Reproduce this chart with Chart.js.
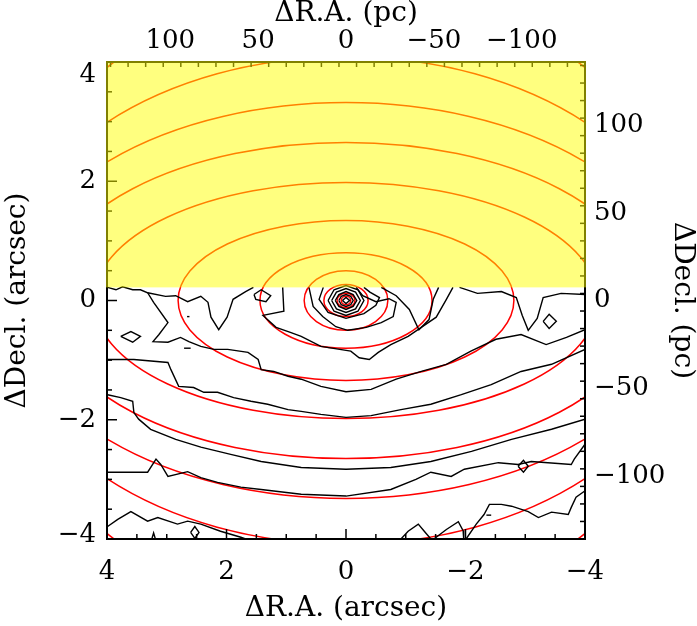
<!DOCTYPE html>
<html>
<head>
<meta charset="utf-8">
<script src="https://cdn.jsdelivr.net/npm/chart.js@4.4.0/dist/chart.umd.min.js"></script>
<style>
html, body { margin: 0; padding: 0; background: #fff; }
</style>
</head>
<body>
<canvas id="c" width="697" height="626"></canvas>
<script>
// model isophotes, semi-axes in arcsec (centred on the nucleus)
const isoA = [0.08, 0.15, 0.37, 0.70, 1.44, 2.81, 4.22, 5.05, 5.60, 5.86, 5.96];
const isoB = [0.07, 0.12, 0.27, 0.50, 0.80, 1.34, 1.98, 2.65, 3.32, 4.09, 5.27];

// observed contours, [dRA, dDecl] in arcsec
const contours = [
  [[3.99,0.22],[3.85,0.18],[3.74,0.23],[3.57,0.18],[3.44,0.18],[3.32,0.13],[3.22,-0.03],[2.98,-0.37],[3.13,-0.57],[3.23,-0.69],[2.98,-0.70],[2.77,-0.62],[2.63,-0.69],[2.43,-0.77],[2.21,-0.82],[1.98,-0.82],[1.64,-0.87],[1.47,-0.99],[1.42,-1.16],[1.21,-1.19],[0.97,-1.27],[0.75,-1.32],[0.42,-1.44],[0,-1.53],[-0.42,-1.49],[-0.84,-1.32],[-1.26,-1.19],[-1.68,-1.07],[-2.09,-0.85],[-2.51,-0.65],[-2.93,-0.57],[-3.35,-0.74],[-3.69,-0.62],[-4.0,-0.49]],
  [[3.32,0.13],[3.02,0.07],[2.85,0.08],[2.65,-0.02],[2.43,0.07],[2.31,-0.03],[2.26,-0.28],[2.13,-0.49],[1.99,-0.28],[1.89,0.02],[1.68,0.15],[1.55,0.22]],
  [[1.06,0.22],[1.04,-0.18],[1.39,-0.25],[1.17,-0.45],[0.92,-0.54],[0.75,-0.60],[0.42,-0.77],[-0.08,-0.85],[-0.22,-0.96],[-0.39,-0.99],[-0.54,-0.87],[-0.75,-0.74],[-1.04,-0.60],[-1.26,-0.45],[-1.51,-0.28],[-1.68,0.02],[-1.79,0.22]],
  [[0.62,0.22],[0.55,-0.10],[0.39,-0.27],[0.17,-0.44],[-0.03,-0.50],[-0.34,-0.45],[-0.59,-0.37],[-0.79,-0.27],[-0.84,-0.03],[-0.72,0.03],[-0.50,-0.02],[-0.28,0.08],[-0.17,0.22]],
  [[0.38,0.22],[0.45,0.02],[0.30,-0.20],[0,-0.30],[-0.30,-0.22],[-0.50,-0.08],[-0.56,0.05],[-0.40,0.14],[-0.30,0.22]],
  [[0.30,0],[0.20,-0.18],[0,-0.25],[-0.20,-0.18],[-0.30,0],[-0.20,0.18],[0,0.25],[0.20,0.18],[0.30,0]],
  [[0.24,0],[0.16,-0.14],[0,-0.20],[-0.16,-0.14],[-0.24,0],[-0.16,0.14],[0,0.20],[0.16,0.14],[0.24,0]],
  [[0.18,0],[0.12,-0.10],[0,-0.15],[-0.12,-0.10],[-0.18,0],[-0.12,0.10],[0,0.15],[0.12,0.10],[0.18,0]],
  [[0.12,0],[0.08,-0.07],[0,-0.10],[-0.08,-0.07],[-0.12,0],[-0.08,0.07],[0,0.10],[0.08,0.07],[0.12,0]],
  [[0.06,0],[0,-0.05],[-0.06,0],[0,0.05],[0.06,0]],
  [[-0.59,0.22],[-0.84,0.08],[-1.06,-0.15],[-1.22,-0.49],[-1.39,-0.32],[-1.46,0.02],[-1.55,0.22]],
  [[-1.90,0.22],[-2.20,0.12],[-2.60,0.15],[-2.85,0.05],[-2.95,-0.25],[-3.05,-0.50],[-3.20,-0.30],[-3.30,0.05],[-3.60,0.12],[-4.0,0.10]],
  [[3.99,-0.99],[3.55,-0.99],[2.98,-1.04],[2.93,-1.16],[2.80,-1.44],[2.55,-1.46],[2.38,-1.54],[2.15,-1.54],[1.88,-1.63],[1.59,-1.69],[1.31,-1.74],[0.97,-1.83],[0.75,-1.86],[0.42,-1.91],[0,-1.96],[-0.42,-1.93],[-0.92,-1.83],[-1.42,-1.74],[-1.93,-1.58],[-2.43,-1.41],[-2.93,-1.19],[-3.44,-1.07],[-4.0,-0.82]],
  [[3.99,-1.58],[3.77,-1.63],[3.57,-1.69],[3.55,-1.88],[3.47,-1.99],[3.27,-2.16],[2.85,-2.33],[2.43,-2.46],[1.93,-2.58],[1.42,-2.70],[0.75,-2.80],[0,-2.83],[-0.75,-2.80],[-1.42,-2.70],[-2.10,-2.53],[-2.77,-2.33],[-3.44,-2.16],[-4.0,-1.99]],
  [[3.99,-2.88],[3.32,-2.88],[3.18,-2.66],[3.10,-2.75],[2.98,-2.95],[2.65,-2.87],[2.43,-2.97],[2.15,-3.05],[1.76,-3.13],[1.42,-3.17],[0.75,-3.25],[0,-3.28],[-0.75,-3.17],[-1.17,-3.0],[-1.42,-2.88],[-1.76,-2.95],[-1.98,-2.83],[-2.55,-2.72],[-2.88,-2.75],[-3.10,-2.70],[-3.77,-2.75],[-3.82,-2.66],[-4.0,-2.41]],
  [[3.99,-3.79],[3.82,-3.67],[3.60,-3.54],[3.32,-3.70],[3.15,-3.64],[2.82,-3.75],[2.65,-3.70],[2.43,-3.75],[2.10,-3.87],[1.76,-3.97],[1.68,-4.0]],
  [[-2.01,-4.0],[-2.18,-3.75],[-2.31,-3.59],[-2.40,-3.42],[-2.60,-3.42],[-2.77,-3.45],[-3.05,-3.54],[-3.22,-3.64],[-3.44,-3.55],[-3.72,-3.59],[-3.77,-3.47],[-3.85,-3.30],[-3.99,-3.20]],
  [[-1.47,-4.0],[-1.68,-3.84],[-1.88,-3.71],[-1.96,-3.86],[-1.97,-4.0]],
  [[-0.92,-4.0],[-1.04,-3.87],[-1.21,-3.75],[-1.31,-3.87],[-1.42,-4.0]],
  [[3.77,-0.60],[3.60,-0.52],[3.44,-0.60],[3.57,-0.70],[3.77,-0.60]],
  [[1.54,0.10],[1.42,0.18],[1.26,0.08],[1.34,-0.02],[1.51,0.02],[1.54,0.10]],
  [[-2.88,-2.78],[-2.97,-2.68],[-3.05,-2.78],[-2.97,-2.88],[-2.88,-2.78]],
  [[2.60,-3.89],[2.53,-3.79],[2.46,-3.89],[2.53,-3.99],[2.60,-3.89]],
  [[-3.30,-0.35],[-3.40,-0.23],[-3.52,-0.35],[-3.40,-0.47],[-3.30,-0.35]],
  [[2.71,-0.80],[2.60,-0.80]],
  [[2.66,-0.27],[2.62,-0.27]],
  [[-2.35,-3.60],[-2.43,-3.60]],
  [[3.25,-4.0],[3.22,-3.90],[3.19,-4.0]]
];

const maskDecl = 0.22;      // yellow region starts here (arcsec)
const pcPerArcsec = 34;
const raRange = [-4, 4];
const pcRange = [-4 * pcPerArcsec, 4 * pcPerArcsec];

const TICK_FONT = { family: 'DejaVu Serif', size: 26 };
const TITLE_FONT = { family: 'DejaVu Serif', size: 28 };
const fmt = v => (v < 0 ? '\u2212' + Math.abs(v) : String(v));

const isophotes = {
  id: 'isophotes',
  beforeDatasetsDraw(chart) {
    const { ctx, chartArea: ca, scales: { x, y } } = chart;
    ctx.save();
    ctx.beginPath();
    ctx.rect(ca.left, ca.top, ca.width, ca.height);
    ctx.clip();
    ctx.strokeStyle = '#ff0000';
    ctx.lineWidth = 1.5;
    const cx = x.getPixelForValue(0), cy = y.getPixelForValue(0);
    isoA.forEach((a, i) => {
      const rx = Math.abs(x.getPixelForValue(a) - cx);
      const ry = Math.abs(y.getPixelForValue(isoB[i]) - cy);
      ctx.beginPath();
      ctx.ellipse(cx, cy, rx, ry, 0, 0, Math.PI * 2);
      ctx.stroke();
    });
    ctx.restore();
  }
};

function inwardTicks(ctx, scale, side, major, minor, ca) {
  const n = Math.round((scale.max - scale.min) / minor);
  for (let i = 0; i <= n; i++) {
    const v = scale.min + i * minor;
    const isMajor = Math.abs(v / major - Math.round(v / major)) < 1e-6;
    const len = isMajor ? 10 : 5;
    const p = scale.getPixelForValue(v);
    ctx.beginPath();
    if (side === 'bottom') { ctx.moveTo(p, ca.bottom); ctx.lineTo(p, ca.bottom - len); }
    if (side === 'top') { ctx.moveTo(p, ca.top); ctx.lineTo(p, ca.top + len); }
    if (side === 'left') { ctx.moveTo(ca.left, p); ctx.lineTo(ca.left + len, p); }
    if (side === 'right') { ctx.moveTo(ca.right, p); ctx.lineTo(ca.right - len, p); }
    ctx.stroke();
  }
}

const frame = {
  id: 'frame',
  afterDraw(chart) {
    const { ctx, chartArea: ca, scales } = chart;
    ctx.save();
    ctx.strokeStyle = '#000';
    ctx.lineWidth = 1.5;
    inwardTicks(ctx, scales.x, 'bottom', 2, 0.5, ca);
    inwardTicks(ctx, scales.y, 'left', 2, 0.5, ca);
    inwardTicks(ctx, scales.xpc, 'top', 50, 10, ca);
    inwardTicks(ctx, scales.ypc, 'right', 50, 10, ca);
    ctx.lineWidth = 2;
    ctx.strokeRect(ca.left, ca.top, ca.width, ca.height);
    // masked region, semi-transparent yellow
    const ym = scales.y.getPixelForValue(maskDecl);
    ctx.fillStyle = 'rgba(255,255,0,0.5)';
    ctx.fillRect(ca.left - 1, ca.top - 1, ca.width + 2, ym - ca.top + 1);
    // left tick labels, kept inside the frame height like the original plot
    ctx.fillStyle = '#000';
    ctx.font = TICK_FONT.size + 'px "' + TICK_FONT.family + '"';
    ctx.textAlign = 'right';
    ctx.textBaseline = 'middle';
    scales.y.ticks.forEach(t => {
      const p = scales.y.getPixelForValue(t.value);
      const py = Math.min(Math.max(p, ca.top + 13), ca.bottom - 4);
      ctx.fillText(fmt(t.value), ca.left - 11, py);
    });
    ctx.restore();
  }
};

function axis(pos, range, step, reverse, title, size, tickPad, titlePad, hideLabels) {
  const horiz = pos === 'top' || pos === 'bottom';
  return {
    type: 'linear', position: pos, min: range[0], max: range[1], reverse,
    ticks: { stepSize: step, includeBounds: false, padding: tickPad,
             color: hideLabels ? 'rgba(0,0,0,0)' : '#000', font: TICK_FONT,
             maxRotation: 0, autoSkip: false, callback: fmt },
    grid: { display: false, drawTicks: false },
    border: { display: false },
    title: { display: true, text: title, color: '#000', font: TITLE_FONT, padding: { top: titlePad, bottom: 0 } },
    afterFit: s => { if (horiz) s.height = size; else s.width = size; }
  };
}

new Chart(document.getElementById('c'), {
  type: 'scatter',
  data: {
    datasets: contours.map(c => ({
      data: c.map(([x, y]) => ({ x, y })),
      showLine: true,
      borderColor: '#000',
      borderWidth: 1.4,
      pointRadius: 0,
      fill: false,
      tension: 0
    }))
  },
  options: {
    responsive: false,
    animation: false,
    devicePixelRatio: 1,
    layout: { padding: 0 },
    plugins: { legend: { display: false }, tooltip: { enabled: false } },
    scales: {
      x: axis('bottom', raRange, 2, true, '\u0394R.A. (arcsec)', 87, 18, 5),
      xpc: axis('top', pcRange, 50, true, '\u0394R.A. (pc)', 62, 5, -3),
      y: axis('left', raRange, 2, false, '\u0394Decl. (arcsec)', 107, 11, 1, true),
      ypc: axis('right', pcRange, 50, false, '\u0394Decl. (pc)', 112, 9, -2)
    }
  },
  plugins: [isophotes, frame]
});
</script>
</body>
</html>
